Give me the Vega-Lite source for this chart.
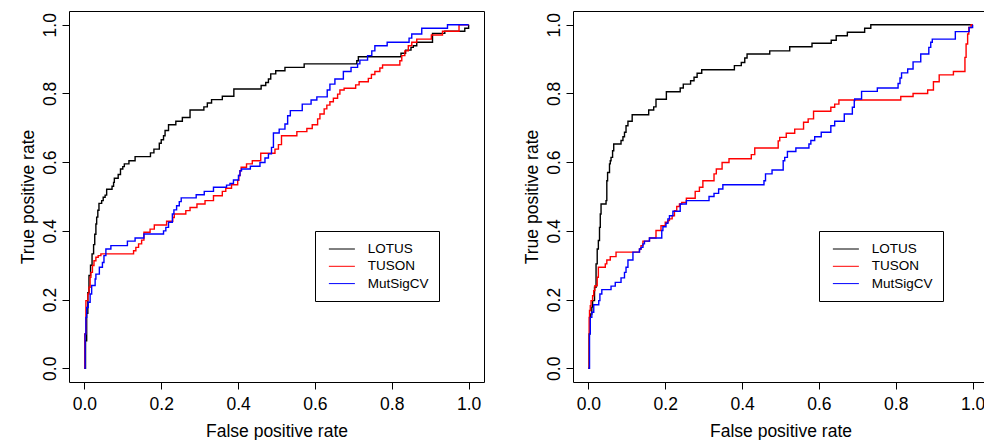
{
  "$schema": "https://vega.github.io/schema/vega-lite/v6.json",
  "background": "white",
  "autosize": {"type": "pad"},
  "padding": {"left": 18, "top": 10, "right": 0, "bottom": 0},
  "config": {
    "font": "Liberation Sans",
    "view": {"stroke": "black", "strokeWidth": 1},
    "axis": {
      "domain": false, "grid": false, "ticks": true, "tickSize": 7, "tickColor": "black", "tickWidth": 1,
      "labelFont": "Liberation Sans", "labelFontSize": 17.5, "labelColor": "black", "labelFlush": false, "labelOverlap": false,
      "titleFont": "Liberation Sans", "titleFontSize": 17.5, "titleFontWeight": "normal", "titleColor": "black"
    },
    "legend": {
      "title": null, "orient": "none", "strokeColor": "black", "fillColor": "white", "padding": 10,
      "symbolType": "M-0.55,0H2.92", "symbolSize": 225, "symbolStrokeWidth": 1,
      "labelFont": "Liberation Sans", "labelFontSize": 13.5, "labelColor": "black", "labelOffset": 26.7, "rowPadding": 2.3
    }
  },
  "datasets": {
    "left": [
      {"m":"LOTUS","x":0,"y":0},{"m":"LOTUS","x":0.003,"y":0.08},{"m":"LOTUS","x":0.006,"y":0.16},{"m":"LOTUS","x":0.009,"y":0.22},{"m":"LOTUS","x":0.012,"y":0.27},{"m":"LOTUS","x":0.016,"y":0.3},{"m":"LOTUS","x":0.02,"y":0.333},{"m":"LOTUS","x":0.024,"y":0.36},{"m":"LOTUS","x":0.027,"y":0.39},{"m":"LOTUS","x":0.03,"y":0.42},{"m":"LOTUS","x":0.032,"y":0.44},{"m":"LOTUS","x":0.035,"y":0.46},{"m":"LOTUS","x":0.038,"y":0.48},{"m":"LOTUS","x":0.045,"y":0.488},{"m":"LOTUS","x":0.049,"y":0.498},{"m":"LOTUS","x":0.054,"y":0.504},{"m":"LOTUS","x":0.058,"y":0.521},{"m":"LOTUS","x":0.072,"y":0.53},{"m":"LOTUS","x":0.076,"y":0.541},{"m":"LOTUS","x":0.078,"y":0.553},{"m":"LOTUS","x":0.088,"y":0.564},{"m":"LOTUS","x":0.094,"y":0.58},{"m":"LOTUS","x":0.1,"y":0.587},{"m":"LOTUS","x":0.104,"y":0.595},{"m":"LOTUS","x":0.116,"y":0.604},{"m":"LOTUS","x":0.132,"y":0.616},{"m":"LOTUS","x":0.172,"y":0.627},{"m":"LOTUS","x":0.181,"y":0.638},{"m":"LOTUS","x":0.195,"y":0.655},{"m":"LOTUS","x":0.2,"y":0.665},{"m":"LOTUS","x":0.206,"y":0.677},{"m":"LOTUS","x":0.21,"y":0.692},{"m":"LOTUS","x":0.219,"y":0.709},{"m":"LOTUS","x":0.238,"y":0.719},{"m":"LOTUS","x":0.255,"y":0.73},{"m":"LOTUS","x":0.275,"y":0.752},{"m":"LOTUS","x":0.311,"y":0.761},{"m":"LOTUS","x":0.32,"y":0.772},{"m":"LOTUS","x":0.331,"y":0.782},{"m":"LOTUS","x":0.359,"y":0.792},{"m":"LOTUS","x":0.389,"y":0.813},{"m":"LOTUS","x":0.46,"y":0.823},{"m":"LOTUS","x":0.472,"y":0.832},{"m":"LOTUS","x":0.479,"y":0.842},{"m":"LOTUS","x":0.485,"y":0.857},{"m":"LOTUS","x":0.498,"y":0.866},{"m":"LOTUS","x":0.522,"y":0.876},{"m":"LOTUS","x":0.572,"y":0.886},{"m":"LOTUS","x":0.709,"y":0.895},{"m":"LOTUS","x":0.713,"y":0.907},{"m":"LOTUS","x":0.824,"y":0.917},{"m":"LOTUS","x":0.836,"y":0.926},{"m":"LOTUS","x":0.85,"y":0.934},{"m":"LOTUS","x":0.856,"y":0.939},{"m":"LOTUS","x":0.865,"y":0.949},{"m":"LOTUS","x":0.906,"y":0.975},{"m":"LOTUS","x":0.938,"y":0.981},{"m":"LOTUS","x":0.99,"y":0.99},{"m":"LOTUS","x":1,"y":1},
      {"m":"TUSON","x":0,"y":0},{"m":"TUSON","x":0.001,"y":0.1},{"m":"TUSON","x":0.004,"y":0.197},{"m":"TUSON","x":0.009,"y":0.216},{"m":"TUSON","x":0.012,"y":0.236},{"m":"TUSON","x":0.015,"y":0.265},{"m":"TUSON","x":0.017,"y":0.279},{"m":"TUSON","x":0.021,"y":0.299},{"m":"TUSON","x":0.025,"y":0.313},{"m":"TUSON","x":0.03,"y":0.323},{"m":"TUSON","x":0.036,"y":0.328},{"m":"TUSON","x":0.043,"y":0.333},{"m":"TUSON","x":0.128,"y":0.342},{"m":"TUSON","x":0.134,"y":0.352},{"m":"TUSON","x":0.141,"y":0.362},{"m":"TUSON","x":0.149,"y":0.373},{"m":"TUSON","x":0.155,"y":0.396},{"m":"TUSON","x":0.171,"y":0.405},{"m":"TUSON","x":0.182,"y":0.417},{"m":"TUSON","x":0.214,"y":0.428},{"m":"TUSON","x":0.23,"y":0.439},{"m":"TUSON","x":0.234,"y":0.449},{"m":"TUSON","x":0.264,"y":0.459},{"m":"TUSON","x":0.275,"y":0.468},{"m":"TUSON","x":0.293,"y":0.478},{"m":"TUSON","x":0.314,"y":0.488},{"m":"TUSON","x":0.336,"y":0.502},{"m":"TUSON","x":0.359,"y":0.515},{"m":"TUSON","x":0.368,"y":0.524},{"m":"TUSON","x":0.383,"y":0.534},{"m":"TUSON","x":0.399,"y":0.547},{"m":"TUSON","x":0.402,"y":0.561},{"m":"TUSON","x":0.405,"y":0.575},{"m":"TUSON","x":0.408,"y":0.585},{"m":"TUSON","x":0.422,"y":0.595},{"m":"TUSON","x":0.437,"y":0.604},{"m":"TUSON","x":0.459,"y":0.626},{"m":"TUSON","x":0.496,"y":0.638},{"m":"TUSON","x":0.505,"y":0.651},{"m":"TUSON","x":0.513,"y":0.677},{"m":"TUSON","x":0.553,"y":0.689},{"m":"TUSON","x":0.579,"y":0.698},{"m":"TUSON","x":0.593,"y":0.709},{"m":"TUSON","x":0.607,"y":0.726},{"m":"TUSON","x":0.613,"y":0.74},{"m":"TUSON","x":0.624,"y":0.755},{"m":"TUSON","x":0.631,"y":0.766},{"m":"TUSON","x":0.639,"y":0.776},{"m":"TUSON","x":0.648,"y":0.786},{"m":"TUSON","x":0.659,"y":0.798},{"m":"TUSON","x":0.665,"y":0.81},{"m":"TUSON","x":0.676,"y":0.815},{"m":"TUSON","x":0.706,"y":0.825},{"m":"TUSON","x":0.715,"y":0.834},{"m":"TUSON","x":0.739,"y":0.844},{"m":"TUSON","x":0.747,"y":0.855},{"m":"TUSON","x":0.756,"y":0.864},{"m":"TUSON","x":0.769,"y":0.874},{"m":"TUSON","x":0.776,"y":0.883},{"m":"TUSON","x":0.821,"y":0.895},{"m":"TUSON","x":0.826,"y":0.91},{"m":"TUSON","x":0.834,"y":0.924},{"m":"TUSON","x":0.843,"y":0.939},{"m":"TUSON","x":0.852,"y":0.949},{"m":"TUSON","x":0.865,"y":0.958},{"m":"TUSON","x":0.903,"y":0.97},{"m":"TUSON","x":0.932,"y":0.981},{"m":"TUSON","x":0.975,"y":1},{"m":"TUSON","x":1,"y":1},
      {"m":"MutSigCV","x":0,"y":0},{"m":"MutSigCV","x":0.002,"y":0.1},{"m":"MutSigCV","x":0.004,"y":0.148},{"m":"MutSigCV","x":0.006,"y":0.177},{"m":"MutSigCV","x":0.01,"y":0.192},{"m":"MutSigCV","x":0.015,"y":0.216},{"m":"MutSigCV","x":0.019,"y":0.241},{"m":"MutSigCV","x":0.028,"y":0.26},{"m":"MutSigCV","x":0.03,"y":0.274},{"m":"MutSigCV","x":0.039,"y":0.294},{"m":"MutSigCV","x":0.047,"y":0.308},{"m":"MutSigCV","x":0.051,"y":0.328},{"m":"MutSigCV","x":0.056,"y":0.347},{"m":"MutSigCV","x":0.069,"y":0.357},{"m":"MutSigCV","x":0.112,"y":0.37},{"m":"MutSigCV","x":0.132,"y":0.379},{"m":"MutSigCV","x":0.155,"y":0.391},{"m":"MutSigCV","x":0.206,"y":0.4},{"m":"MutSigCV","x":0.212,"y":0.41},{"m":"MutSigCV","x":0.219,"y":0.425},{"m":"MutSigCV","x":0.229,"y":0.449},{"m":"MutSigCV","x":0.233,"y":0.461},{"m":"MutSigCV","x":0.24,"y":0.473},{"m":"MutSigCV","x":0.247,"y":0.485},{"m":"MutSigCV","x":0.252,"y":0.496},{"m":"MutSigCV","x":0.291,"y":0.505},{"m":"MutSigCV","x":0.312,"y":0.515},{"m":"MutSigCV","x":0.336,"y":0.527},{"m":"MutSigCV","x":0.37,"y":0.533},{"m":"MutSigCV","x":0.379,"y":0.538},{"m":"MutSigCV","x":0.388,"y":0.548},{"m":"MutSigCV","x":0.401,"y":0.561},{"m":"MutSigCV","x":0.405,"y":0.575},{"m":"MutSigCV","x":0.409,"y":0.58},{"m":"MutSigCV","x":0.432,"y":0.588},{"m":"MutSigCV","x":0.457,"y":0.599},{"m":"MutSigCV","x":0.47,"y":0.612},{"m":"MutSigCV","x":0.479,"y":0.624},{"m":"MutSigCV","x":0.487,"y":0.643},{"m":"MutSigCV","x":0.492,"y":0.685},{"m":"MutSigCV","x":0.507,"y":0.696},{"m":"MutSigCV","x":0.522,"y":0.711},{"m":"MutSigCV","x":0.529,"y":0.735},{"m":"MutSigCV","x":0.536,"y":0.75},{"m":"MutSigCV","x":0.567,"y":0.769},{"m":"MutSigCV","x":0.59,"y":0.781},{"m":"MutSigCV","x":0.605,"y":0.79},{"m":"MutSigCV","x":0.632,"y":0.81},{"m":"MutSigCV","x":0.639,"y":0.827},{"m":"MutSigCV","x":0.652,"y":0.842},{"m":"MutSigCV","x":0.674,"y":0.864},{"m":"MutSigCV","x":0.694,"y":0.876},{"m":"MutSigCV","x":0.711,"y":0.886},{"m":"MutSigCV","x":0.717,"y":0.897},{"m":"MutSigCV","x":0.737,"y":0.91},{"m":"MutSigCV","x":0.748,"y":0.924},{"m":"MutSigCV","x":0.756,"y":0.939},{"m":"MutSigCV","x":0.788,"y":0.949},{"m":"MutSigCV","x":0.845,"y":0.961},{"m":"MutSigCV","x":0.852,"y":0.973},{"m":"MutSigCV","x":0.878,"y":0.99},{"m":"MutSigCV","x":0.945,"y":1},{"m":"MutSigCV","x":1,"y":1}
    ],
    "right": [
      {"m":"LOTUS","x":0,"y":0},{"m":"LOTUS","x":0.002,"y":0.1},{"m":"LOTUS","x":0.005,"y":0.158},{"m":"LOTUS","x":0.009,"y":0.178},{"m":"LOTUS","x":0.011,"y":0.197},{"m":"LOTUS","x":0.016,"y":0.236},{"m":"LOTUS","x":0.02,"y":0.304},{"m":"LOTUS","x":0.023,"y":0.347},{"m":"LOTUS","x":0.026,"y":0.372},{"m":"LOTUS","x":0.029,"y":0.41},{"m":"LOTUS","x":0.031,"y":0.449},{"m":"LOTUS","x":0.033,"y":0.478},{"m":"LOTUS","x":0.046,"y":0.488},{"m":"LOTUS","x":0.048,"y":0.546},{"m":"LOTUS","x":0.05,"y":0.57},{"m":"LOTUS","x":0.055,"y":0.595},{"m":"LOTUS","x":0.057,"y":0.604},{"m":"LOTUS","x":0.059,"y":0.614},{"m":"LOTUS","x":0.063,"y":0.633},{"m":"LOTUS","x":0.066,"y":0.653},{"m":"LOTUS","x":0.085,"y":0.663},{"m":"LOTUS","x":0.09,"y":0.674},{"m":"LOTUS","x":0.094,"y":0.687},{"m":"LOTUS","x":0.098,"y":0.706},{"m":"LOTUS","x":0.103,"y":0.719},{"m":"LOTUS","x":0.114,"y":0.738},{"m":"LOTUS","x":0.157,"y":0.752},{"m":"LOTUS","x":0.17,"y":0.761},{"m":"LOTUS","x":0.176,"y":0.783},{"m":"LOTUS","x":0.203,"y":0.805},{"m":"LOTUS","x":0.239,"y":0.816},{"m":"LOTUS","x":0.247,"y":0.827},{"m":"LOTUS","x":0.266,"y":0.837},{"m":"LOTUS","x":0.275,"y":0.847},{"m":"LOTUS","x":0.283,"y":0.859},{"m":"LOTUS","x":0.295,"y":0.869},{"m":"LOTUS","x":0.38,"y":0.881},{"m":"LOTUS","x":0.398,"y":0.89},{"m":"LOTUS","x":0.407,"y":0.903},{"m":"LOTUS","x":0.413,"y":0.915},{"m":"LOTUS","x":0.472,"y":0.924},{"m":"LOTUS","x":0.524,"y":0.936},{"m":"LOTUS","x":0.582,"y":0.946},{"m":"LOTUS","x":0.632,"y":0.955},{"m":"LOTUS","x":0.645,"y":0.968},{"m":"LOTUS","x":0.674,"y":0.978},{"m":"LOTUS","x":0.719,"y":0.99},{"m":"LOTUS","x":0.735,"y":1},{"m":"LOTUS","x":1,"y":1},
      {"m":"TUSON","x":0,"y":0},{"m":"TUSON","x":0.002,"y":0.148},{"m":"TUSON","x":0.003,"y":0.168},{"m":"TUSON","x":0.005,"y":0.182},{"m":"TUSON","x":0.007,"y":0.197},{"m":"TUSON","x":0.011,"y":0.211},{"m":"TUSON","x":0.014,"y":0.226},{"m":"TUSON","x":0.017,"y":0.24},{"m":"TUSON","x":0.023,"y":0.265},{"m":"TUSON","x":0.026,"y":0.294},{"m":"TUSON","x":0.044,"y":0.304},{"m":"TUSON","x":0.048,"y":0.315},{"m":"TUSON","x":0.057,"y":0.325},{"m":"TUSON","x":0.072,"y":0.338},{"m":"TUSON","x":0.133,"y":0.347},{"m":"TUSON","x":0.137,"y":0.357},{"m":"TUSON","x":0.142,"y":0.37},{"m":"TUSON","x":0.159,"y":0.379},{"m":"TUSON","x":0.176,"y":0.401},{"m":"TUSON","x":0.189,"y":0.415},{"m":"TUSON","x":0.2,"y":0.425},{"m":"TUSON","x":0.207,"y":0.43},{"m":"TUSON","x":0.211,"y":0.435},{"m":"TUSON","x":0.218,"y":0.444},{"m":"TUSON","x":0.224,"y":0.459},{"m":"TUSON","x":0.23,"y":0.471},{"m":"TUSON","x":0.237,"y":0.478},{"m":"TUSON","x":0.243,"y":0.483},{"m":"TUSON","x":0.255,"y":0.495},{"m":"TUSON","x":0.278,"y":0.515},{"m":"TUSON","x":0.289,"y":0.527},{"m":"TUSON","x":0.298,"y":0.546},{"m":"TUSON","x":0.327,"y":0.566},{"m":"TUSON","x":0.333,"y":0.58},{"m":"TUSON","x":0.348,"y":0.599},{"m":"TUSON","x":0.366,"y":0.61},{"m":"TUSON","x":0.424,"y":0.622},{"m":"TUSON","x":0.433,"y":0.641},{"m":"TUSON","x":0.494,"y":0.662},{"m":"TUSON","x":0.498,"y":0.672},{"m":"TUSON","x":0.515,"y":0.684},{"m":"TUSON","x":0.537,"y":0.696},{"m":"TUSON","x":0.56,"y":0.716},{"m":"TUSON","x":0.572,"y":0.726},{"m":"TUSON","x":0.586,"y":0.748},{"m":"TUSON","x":0.631,"y":0.76},{"m":"TUSON","x":0.641,"y":0.769},{"m":"TUSON","x":0.652,"y":0.781},{"m":"TUSON","x":0.813,"y":0.791},{"m":"TUSON","x":0.845,"y":0.8},{"m":"TUSON","x":0.883,"y":0.81},{"m":"TUSON","x":0.898,"y":0.834},{"m":"TUSON","x":0.913,"y":0.854},{"m":"TUSON","x":0.95,"y":0.864},{"m":"TUSON","x":0.98,"y":0.905},{"m":"TUSON","x":0.983,"y":0.944},{"m":"TUSON","x":0.987,"y":0.973},{"m":"TUSON","x":0.99,"y":0.992},{"m":"TUSON","x":0.996,"y":1},{"m":"TUSON","x":1,"y":1},
      {"m":"MutSigCV","x":0,"y":0},{"m":"MutSigCV","x":0.003,"y":0.1},{"m":"MutSigCV","x":0.005,"y":0.148},{"m":"MutSigCV","x":0.009,"y":0.163},{"m":"MutSigCV","x":0.014,"y":0.185},{"m":"MutSigCV","x":0.027,"y":0.197},{"m":"MutSigCV","x":0.03,"y":0.216},{"m":"MutSigCV","x":0.035,"y":0.229},{"m":"MutSigCV","x":0.059,"y":0.239},{"m":"MutSigCV","x":0.07,"y":0.25},{"m":"MutSigCV","x":0.085,"y":0.263},{"m":"MutSigCV","x":0.094,"y":0.279},{"m":"MutSigCV","x":0.098,"y":0.294},{"m":"MutSigCV","x":0.103,"y":0.315},{"m":"MutSigCV","x":0.116,"y":0.338},{"m":"MutSigCV","x":0.133,"y":0.347},{"m":"MutSigCV","x":0.137,"y":0.352},{"m":"MutSigCV","x":0.142,"y":0.362},{"m":"MutSigCV","x":0.146,"y":0.37},{"m":"MutSigCV","x":0.159,"y":0.379},{"m":"MutSigCV","x":0.191,"y":0.401},{"m":"MutSigCV","x":0.194,"y":0.412},{"m":"MutSigCV","x":0.202,"y":0.422},{"m":"MutSigCV","x":0.207,"y":0.435},{"m":"MutSigCV","x":0.211,"y":0.444},{"m":"MutSigCV","x":0.22,"y":0.457},{"m":"MutSigCV","x":0.239,"y":0.478},{"m":"MutSigCV","x":0.255,"y":0.488},{"m":"MutSigCV","x":0.314,"y":0.5},{"m":"MutSigCV","x":0.327,"y":0.509},{"m":"MutSigCV","x":0.339,"y":0.522},{"m":"MutSigCV","x":0.35,"y":0.534},{"m":"MutSigCV","x":0.457,"y":0.546},{"m":"MutSigCV","x":0.461,"y":0.566},{"m":"MutSigCV","x":0.478,"y":0.577},{"m":"MutSigCV","x":0.507,"y":0.604},{"m":"MutSigCV","x":0.511,"y":0.614},{"m":"MutSigCV","x":0.518,"y":0.631},{"m":"MutSigCV","x":0.54,"y":0.641},{"m":"MutSigCV","x":0.574,"y":0.653},{"m":"MutSigCV","x":0.579,"y":0.663},{"m":"MutSigCV","x":0.589,"y":0.674},{"m":"MutSigCV","x":0.606,"y":0.687},{"m":"MutSigCV","x":0.631,"y":0.706},{"m":"MutSigCV","x":0.641,"y":0.719},{"m":"MutSigCV","x":0.666,"y":0.74},{"m":"MutSigCV","x":0.687,"y":0.76},{"m":"MutSigCV","x":0.692,"y":0.779},{"m":"MutSigCV","x":0.693,"y":0.784},{"m":"MutSigCV","x":0.711,"y":0.806},{"m":"MutSigCV","x":0.752,"y":0.816},{"m":"MutSigCV","x":0.806,"y":0.829},{"m":"MutSigCV","x":0.811,"y":0.845},{"m":"MutSigCV","x":0.815,"y":0.86},{"m":"MutSigCV","x":0.831,"y":0.871},{"m":"MutSigCV","x":0.845,"y":0.892},{"m":"MutSigCV","x":0.865,"y":0.915},{"m":"MutSigCV","x":0.886,"y":0.934},{"m":"MutSigCV","x":0.891,"y":0.949},{"m":"MutSigCV","x":0.895,"y":0.958},{"m":"MutSigCV","x":0.955,"y":0.98},{"m":"MutSigCV","x":0.991,"y":0.992},{"m":"MutSigCV","x":1,"y":1}
    ]
  },
  "spacing": 89,
  "bounds": "flush",
  "resolve": {"scale": {"color": "independent", "x": "independent", "y": "independent"}, "legend": {"color": "independent"}},
  "hconcat": [
    {
      "width": 415, "height": 371,
      "data": {"name": "left"},
      "mark": {"type": "line", "interpolate": "step-after", "strokeWidth": 1.4},
      "encoding": {
        "x": {"field": "x", "type": "quantitative", "scale": {"domain": [-0.04, 1.04], "nice": false, "zero": false},
              "axis": {"values": [0, 0.2, 0.4, 0.6, 0.8, 1], "format": ".1f", "title": "False positive rate",
                       "labelAngle": 0, "labelAlign": "center", "labelBaseline": "top", "labelPadding": 6,
                       "titleY": 54, "titleBaseline": "alphabetic"}},
        "y": {"field": "y", "type": "quantitative", "scale": {"domain": [-0.04, 1.04], "nice": false, "zero": false},
              "axis": {"values": [0, 0.2, 0.4, 0.6, 0.8, 1], "format": ".1f", "title": "True positive rate",
                       "labelAngle": 270, "labelAlign": "center", "labelBaseline": "alphabetic", "labelPadding": 7,
                       "titleAngle": 270, "titleX": -36, "titleY": 185.5, "titleAlign": "center", "titleBaseline": "alphabetic"}},
        "color": {"field": "m", "type": "nominal",
                  "scale": {"domain": ["LOTUS", "TUSON", "MutSigCV"], "range": ["#000000", "#FF0000", "#0000FF"]},
                  "legend": {"legendX": 246, "legendY": 220}}
      }
    },
    {
      "width": 412, "height": 371,
      "data": {"name": "right"},
      "mark": {"type": "line", "interpolate": "step-after", "strokeWidth": 1.4},
      "encoding": {
        "x": {"field": "x", "type": "quantitative", "scale": {"domain": [-0.04, 1.0322], "nice": false, "zero": false},
              "axis": {"values": [0, 0.2, 0.4, 0.6, 0.8, 1], "format": ".1f", "title": "False positive rate",
                       "labelAngle": 0, "labelAlign": "center", "labelBaseline": "top", "labelPadding": 6,
                       "titleX": 207.5, "titleY": 54, "titleBaseline": "alphabetic"}},
        "y": {"field": "y", "type": "quantitative", "scale": {"domain": [-0.04, 1.04], "nice": false, "zero": false},
              "axis": {"values": [0, 0.2, 0.4, 0.6, 0.8, 1], "format": ".1f", "title": "True positive rate",
                       "labelAngle": 270, "labelAlign": "center", "labelBaseline": "alphabetic", "labelPadding": 7,
                       "titleAngle": 270, "titleX": -36, "titleY": 185.5, "titleAlign": "center", "titleBaseline": "alphabetic"}},
        "color": {"field": "m", "type": "nominal",
                  "scale": {"domain": ["LOTUS", "TUSON", "MutSigCV"], "range": ["#000000", "#FF0000", "#0000FF"]},
                  "legend": {"legendX": 246, "legendY": 220}}
      }
    }
  ]
}
